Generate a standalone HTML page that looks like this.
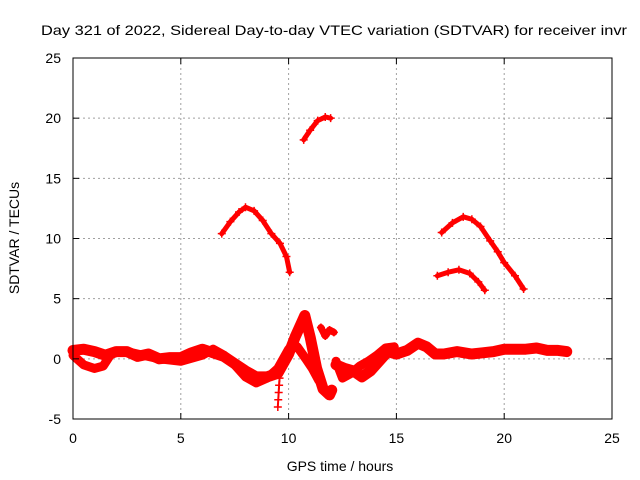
<!DOCTYPE html>
<html><head><meta charset="utf-8"><style>
body{margin:0;background:#fff}
svg{display:block;font-family:"Liberation Sans",sans-serif}
</style></head><body>
<svg id="chart" width="640" height="480">
<rect x="0" y="0" width="640" height="480" fill="#fff"/>
<text x="334" y="35" text-anchor="middle" font-size="14" textLength="586" lengthAdjust="spacingAndGlyphs">Day 321 of 2022, Sidereal Day-to-day VTEC variation (SDTVAR) for receiver invr</text>
<text transform="translate(19,238) rotate(-90)" text-anchor="middle" font-size="14">SDTVAR / TECUs</text>
<text x="340" y="471" text-anchor="middle" font-size="14">GPS time / hours</text>
<g id="grid"></g>
<g id="series"></g>
<g id="axes"></g>
</svg>
<script>
const xTicks=[0,5,10,15,20,25];
const yTicks=[-5,0,5,10,15,20,25];
const arcA_h=[6.9,7.3,7.7,8.0,8.4,8.8,9.2,9.6,9.9,10.05];
const arcA_v=[10.4,11.4,12.2,12.6,12.3,11.5,10.4,9.6,8.5,7.2];
const arcB_h=[10.7,11.0,11.35,11.7,11.95];
const arcB_v=[18.2,19.0,19.8,20.1,20.0];
const arcC_h=[17.1,17.6,18.1,18.5,18.9,19.35,19.7,20.0,20.5,20.9];
const arcC_v=[10.5,11.3,11.8,11.6,11.0,9.8,8.9,8.0,6.9,5.8];
const arcD_h=[16.9,17.4,17.9,18.4,18.8,19.1];
const arcD_v=[6.9,7.2,7.4,7.1,6.4,5.7];
const band1_h=[0,0.5,1,1.5,2,2.5,3,3.5,4,4.5,5,5.5,6,6.5,7,7.5,8,8.5,9,9.5,10,10.3,10.6,10.75,11,11.3,11.6,11.9,12.0];
const band1_v=[0.7,0.8,0.6,0.3,0.6,0.6,0.2,0.4,0.0,0.1,0.1,0.5,0.8,0.5,0.2,-0.4,-1.0,-1.5,-1.5,-1.2,0.4,1.8,3.0,3.6,1.8,-0.8,-2.5,-3.0,-2.6];
const band2_h=[0,0.5,1,1.4,1.8,2.5,4,5,6,6.5,7,7.5,8,8.5,9,9.5,10,10.4,10.8,11.1,11.4];
const band2_v=[0.3,-0.5,-0.8,-0.6,0.5,0.6,0.0,-0.2,0.3,0.8,0.3,-0.5,-1.5,-2.0,-1.6,-0.8,0.8,1.0,0.0,-0.8,-1.8];
const band3_h=[12.2,12.6,13.0,13.4,13.8,14.2,14.6,15.0,15.5,16.0,16.4,16.8,17.2,17.8,18.5,19.0,19.5,20.0,20.5,21.0,21.5,22.0,22.5,22.9];
const band3_v=[-0.5,-0.8,-1.0,-1.5,-1.0,-0.2,0.6,0.4,0.7,1.3,1.0,0.4,0.4,0.6,0.4,0.5,0.6,0.8,0.8,0.8,0.9,0.7,0.7,0.6];
const band4_h=[12.2,12.5,12.9,13.3,13.7,14.1,14.5,14.9];
const band4_v=[-0.2,-1.6,-1.2,-0.6,-0.2,0.3,0.9,1.0];
const frag_h=[11.5,11.7,11.9,12.1];
const frag_v=[2.6,1.9,2.4,2.2];
const dip_h=[9.5,9.52,9.54,9.56,9.58,9.6];
const dip_v=[-4.0,-3.4,-2.8,-2.2,-1.6,-1.0];
const series=[
 {name:'arc-a',h:arcA_h,v:arcA_v,w:5},
 {name:'arc-b',h:arcB_h,v:arcB_v,w:5},
 {name:'arc-c',h:arcC_h,v:arcC_v,w:5},
 {name:'arc-d',h:arcD_h,v:arcD_v,w:5},
 {name:'band-main',h:band1_h,v:band1_v,w:11},
 {name:'band-lower',h:band2_h,v:band2_v,w:9},
 {name:'band-late',h:band3_h,v:band3_v,w:11},
 {name:'band-late-upper',h:band4_h,v:band4_v,w:9},
 {name:'fragment',h:frag_h,v:frag_v,w:7},
 {name:'dip',h:dip_h,v:dip_v,w:2}
];
const L=73,R=612,T=58,B=419;
const X=h=>L+(h-0)/25*(R-L);
const Y=v=>B-(v+5)/30*(B-T);
const NS='http://www.w3.org/2000/svg';
function mk(tag,attrs,parent){const e=document.createElementNS(NS,tag);for(const k in attrs)e.setAttribute(k,attrs[k]);parent.appendChild(e);return e;}
const grid=document.getElementById('grid'),axes=document.getElementById('axes'),sg=document.getElementById('series');
xTicks.forEach(t=>{
 if(t>0&&t<25){const g=mk('line',{x1:X(t),x2:X(t),y1:T,y2:B,stroke:'#a0a0a0','stroke-dasharray':'2,3'},grid);
 
 }
 const a=mk('line',{x1:X(t),x2:X(t),y1:B,y2:B-6,stroke:'#000'},axes);
 
 
 const b=mk('line',{x1:X(t),x2:X(t),y1:T,y2:T+6,stroke:'#000'},axes);
 
 
 const tx=mk('text',{x:X(t),y:B+24,'text-anchor':'middle','font-size':14},axes);tx.textContent=t;
 
 
});
yTicks.forEach(t=>{
 if(t>-5&&t<25){const g=mk('line',{x1:L,x2:R,y1:Y(t),y2:Y(t),stroke:'#a0a0a0','stroke-dasharray':'2,3'},grid);
 
 }
 const a=mk('line',{x1:L,x2:L+6,y1:Y(t),y2:Y(t),stroke:'#000'},axes);
 
 
 const b=mk('line',{x1:R,x2:R-6,y1:Y(t),y2:Y(t),stroke:'#000'},axes);
 
 
 const tx=mk('text',{x:L-12,y:Y(t)+5,'text-anchor':'end','font-size':14},axes);tx.textContent=t;
 
 
});
const fr=mk('rect',{x:L,y:T,width:R-L,height:B-T,fill:'none',stroke:'#000'},axes);


series.forEach(s=>{
 const g=mk('g',{},sg);
 
 
 const pts=s.h.map((h,i)=>X(h)+','+Y(s.v[i])).join(' ');
 const pl=mk('polyline',{points:pts,fill:'none',stroke:'#f00','stroke-width':s.w,'stroke-linejoin':'round','stroke-linecap':'round'},g);
 
 
 s.h.forEach((h,i)=>{
  const x=X(h),y=Y(s.v[i]);
  const m=mk('path',{d:`M${x-4},${y}H${x+4}M${x},${y-4}V${y+4}`,stroke:'#f00','stroke-width':1.5},g);
  
  
 });
});
</script>
</body></html>
